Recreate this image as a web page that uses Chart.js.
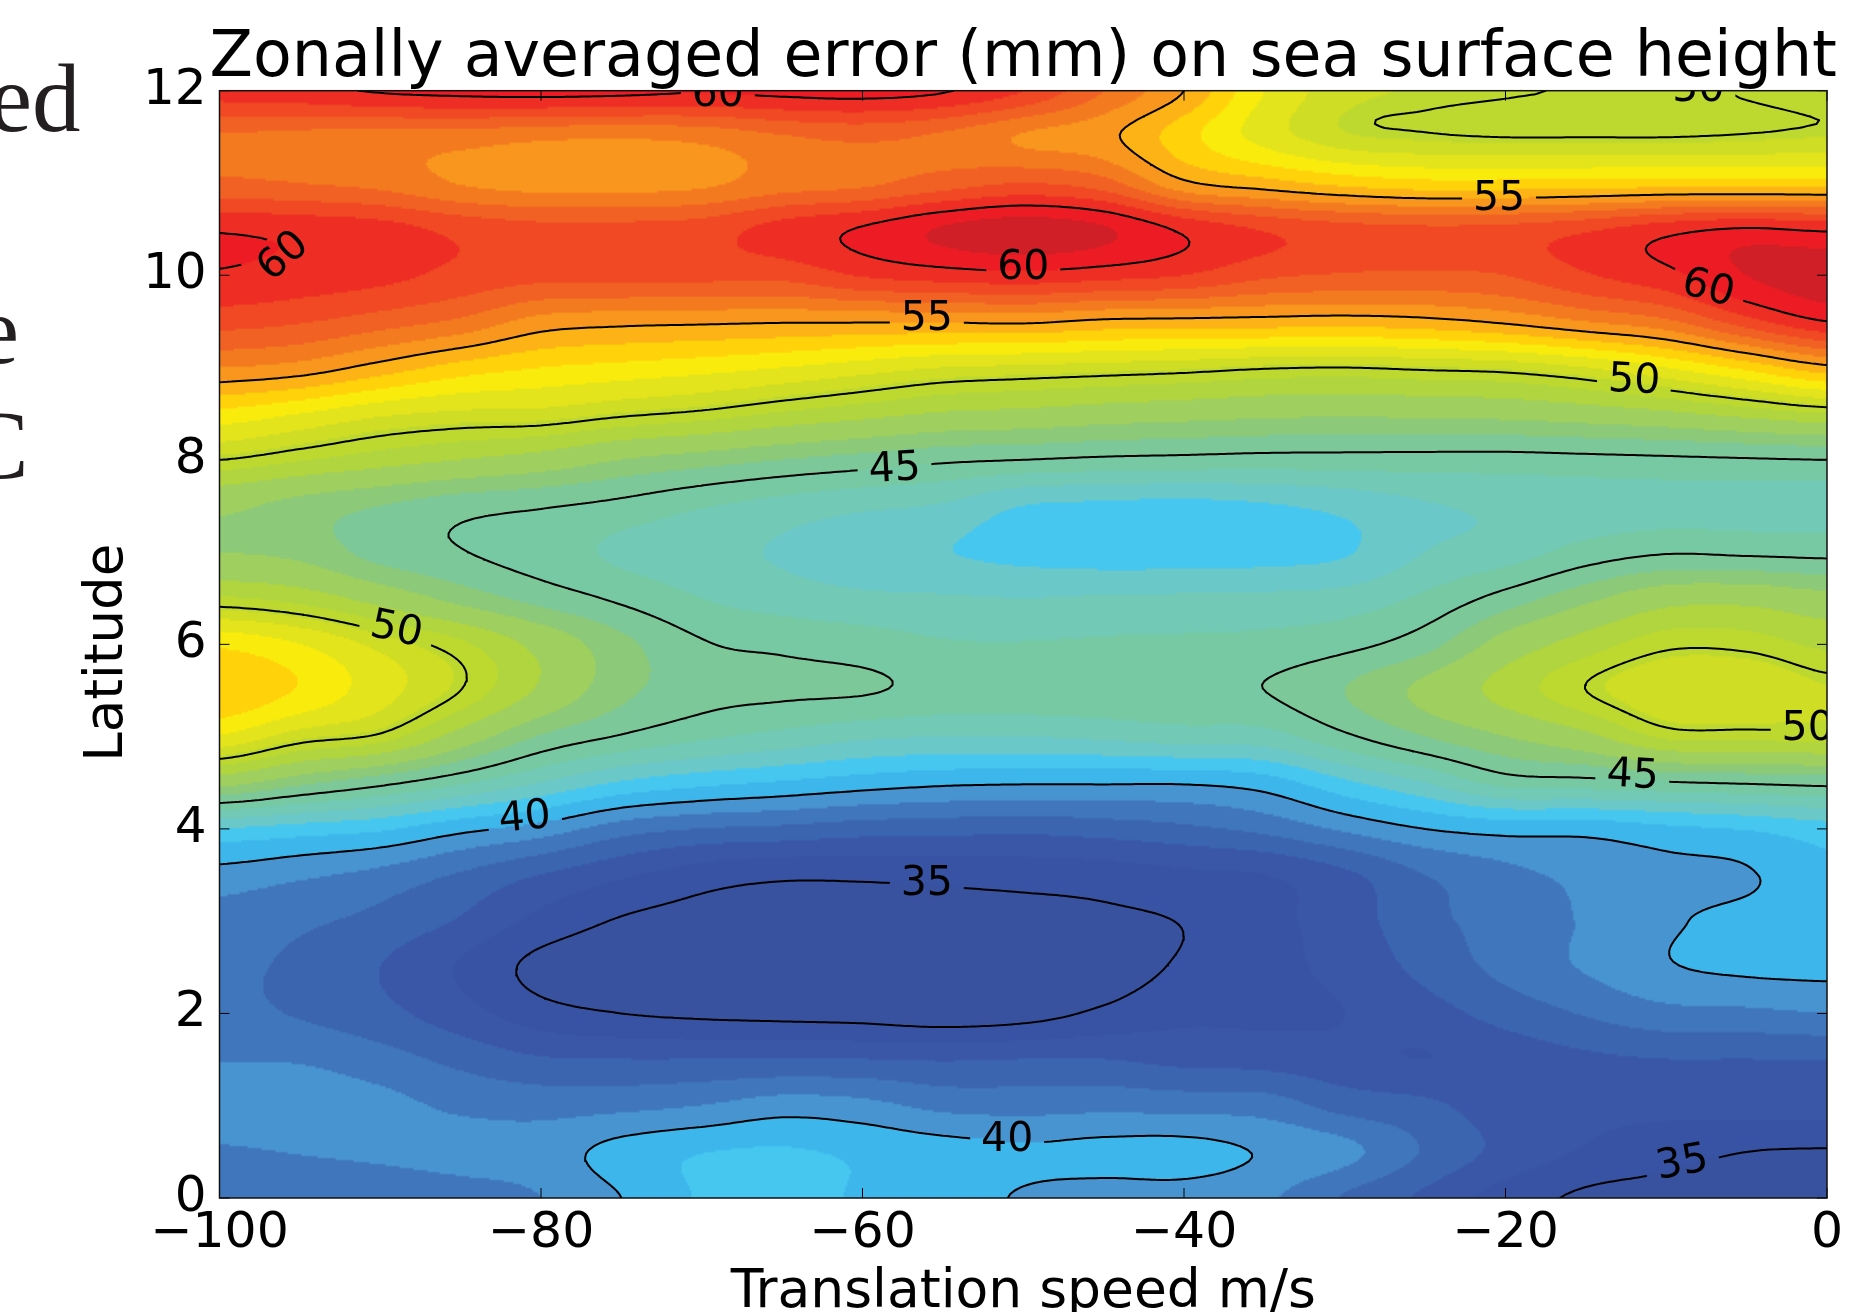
<!DOCTYPE html>
<html>
<head>
<meta charset="utf-8">
<title>Zonally averaged error</title>
<style>
	html, body { margin: 0; padding: 0; background: #fff; overflow: hidden; }
	#page { position: relative; width: 1865px; height: 1312px; overflow: hidden; }
	#chart { position: absolute; left: 0; top: 0; display: block; filter: blur(0.6px); }
	.cut { position: absolute; font-family: "Liberation Serif", serif; font-size: 97px; line-height: 1; color: #231f20; }
</style>
<script src="https://cdn.jsdelivr.net/npm/chart.js@4/dist/chart.umd.min.js"></script>
</head>
<body>
<div id="page">
	<span class="cut" style="left:-11px;top:50px">ed</span>
	<span class="cut" style="left:-24px;top:282px">e</span>
	<span class="cut" style="left:-36px;top:397px">C</span>
	<canvas id="chart" width="1865" height="1312"></canvas>
</div>
<script>
// Values
const speeds = [-100, -95, -90, -85, -80, -75, -70, -65, -60, -55, -50, -45, -40, -35, -30, -25, -20, -15, -10, -5, 0];
const latitudes = [0, 0.5, 1, 1.5, 2, 2.5, 3, 3.5, 4, 4.5, 5, 5.5, 6, 6.5, 7, 7.5, 8, 8.5, 9, 9.5, 10, 10.5, 11, 11.5, 12];
const errorMm = [
	[38.5, 38.4, 38.4, 38.6, 39.0, 40.0, 41.1, 41.3, 40.9, 40.5, 39.9, 39.6, 39.6, 39.2, 37.9, 36.8, 35.6, 34.8, 34.6, 34.4, 34.3],
	[38.9, 39.05, 39.2, 39.4, 39.5, 40.4, 40.95, 41.1, 40.8, 40.5, 40.2, 40.35, 40.4, 39.9, 39.3, 37.9, 36.7, 35.9, 35.4, 35.0, 34.9],
	[39.6, 39.6, 39.3, 38.8, 38.6, 38.7, 39.0, 39.5, 39.3, 38.7, 38.6, 38.7, 38.6, 38.5, 37.6, 37.2, 36.5, 36.3, 36.3, 36.4, 36.5],
	[38.95, 38.9, 38.4, 37.7, 37.1, 37.0, 37.0, 37.0, 37.0, 36.9, 37.0, 37.0, 36.7, 36.6, 36.3, 36.0, 36.4, 36.8, 37.0, 37.0, 37.05],
	[38.3, 37.9, 37.3, 36.4, 35.4, 35.0, 34.8, 34.7, 34.6, 34.4, 34.6, 35.2, 35.75, 35.8, 36.0, 36.6, 37.4, 38.1, 38.7, 38.8, 39.0],
	[38.2, 37.8, 37.0, 35.9, 34.7, 34.4, 34.2, 34.0, 34.0, 34.1, 34.2, 34.5, 35.15, 35.7, 36.3, 37.3, 38.3, 39.1, 39.9, 40.2, 40.3],
	[38.6, 38.2, 37.7, 36.9, 35.7, 34.9, 34.6, 34.4, 34.4, 34.5, 34.6, 34.8, 35.05, 35.7, 36.5, 37.7, 38.4, 39.1, 39.85, 40.3, 40.6],
	[39.6, 39.2, 38.7, 37.9, 37.0, 36.2, 35.5, 35.2, 35.2, 35.3, 35.4, 35.5, 35.8, 36.0, 36.8, 38.0, 38.7, 39.3, 39.7, 39.9, 40.8],
	[42.0, 41.6, 41.2, 40.3, 39.6, 38.5, 38.0, 37.8, 37.5, 37.4, 37.3, 37.5, 37.8, 38.3, 39.2, 40.0, 40.4, 40.4, 40.8, 41.1, 41.6],
	[47.5, 46.3, 45.3, 44.2, 43.0, 41.9, 41.3, 40.9, 40.5, 40.2, 40.1, 40.1, 40.1, 40.5, 41.8, 43.0, 44.4, 44.6, 44.9, 45.1, 45.3],
	[51.9, 50.5, 49.8, 47.8, 45.9, 44.9, 44.2, 43.7, 43.2, 43.0, 43.0, 43.2, 43.5, 43.6, 44.8, 46.0, 47.0, 48.0, 49.5, 49.6, 49.7],
	[53.9, 52.9, 51.4, 50.0, 48.1, 46.3, 45.4, 45.2, 45.1, 44.7, 44.7, 44.75, 44.8, 45.0, 46.0, 47.3, 48.7, 50.0, 50.8, 50.9, 50.3],
	[52.8, 52.0, 50.7, 49.5, 47.9, 46.3, 45.1, 44.8, 44.5, 44.1, 44.05, 44.15, 44.2, 44.3, 44.7, 45.6, 47.5, 48.8, 49.8, 49.75, 49.1],
	[49.4, 48.9, 47.8, 46.6, 45.6, 44.8, 44.0, 43.5, 43.2, 43.1, 43.0, 43.1, 43.15, 43.2, 43.4, 44.2, 45.4, 46.7, 47.8, 47.9, 47.4],
	[47.0, 46.7, 45.6, 45.05, 44.5, 43.8, 43.3, 42.9, 42.4, 42.05, 41.7, 41.5, 41.5, 41.6, 41.9, 43.0, 43.5, 44.4, 44.9, 44.8, 44.7],
	[47.3, 46.6, 46.0, 45.4, 45.1, 44.7, 44.1, 43.6, 43.2, 42.9, 42.0, 41.8, 41.7, 41.9, 42.3, 42.9, 43.2, 43.45, 43.6, 43.6, 43.6],
	[50.0, 49.4, 48.8, 48.3, 47.8, 47.0, 46.5, 46.0, 45.6, 45.2, 45.0, 44.8, 44.7, 44.6, 44.6, 44.6, 44.6, 44.7, 44.8, 44.9, 45.0],
	[52.7, 52.0, 51.2, 50.8, 50.7, 50.2, 49.8, 49.2, 48.7, 48.2, 48.0, 47.7, 47.5, 47.3, 47.2, 47.3, 47.4, 47.7, 48.1, 48.7, 49.3],
	[56.0, 55.6, 54.6, 53.6, 53.0, 52.7, 52.4, 52.0, 51.5, 51.0, 50.8, 50.6, 50.4, 50.1, 50.0, 50.2, 50.4, 51.0, 52.0, 53.3, 54.7],
	[58.4, 58.1, 57.5, 56.8, 55.6, 55.3, 55.2, 55.1, 55.1, 55.1, 55.2, 54.8, 54.7, 54.6, 54.5, 54.7, 55.2, 56.0, 56.8, 58.6, 60.0],
	[59.9, 59.6, 59.3, 58.7, 58.3, 58.3, 58.3, 58.3, 59.1, 59.5, 59.7, 59.4, 59.0, 58.2, 57.9, 57.8, 58.0, 58.9, 59.7, 61.0, 61.5],
	[59.9, 59.7, 59.4, 58.7, 58.3, 58.3, 58.5, 59.4, 60.1, 61.1, 61.6, 61.1, 59.8, 58.9, 58.4, 58.2, 58.3, 58.8, 59.6, 60.1, 59.8],
	[57.2, 57.0, 56.7, 55.95, 55.6, 55.6, 55.8, 56.5, 56.8, 57.5, 58.0, 57.4, 55.2, 54.4, 53.7, 53.3, 53.3, 53.4, 53.5, 53.5, 53.5],
	[56.9, 56.7, 56.6, 56.5, 56.2, 56.1, 56.3, 56.9, 57.2, 56.8, 55.9, 55.3, 53.4, 51.6, 50.4, 50.12, 49.98, 49.98, 49.98, 50.1, 50.25],
	[59.5, 59.7, 60.1, 60.3, 60.4, 60.3, 60.1, 60.3, 60.4, 60.1, 59.0, 57.0, 55.0, 52.0, 50.5, 50.2, 50.05, 49.95, 49.8, 50.05, 50.25]
];
const contourLevels = [35, 40, 45, 50, 55, 60];
const bandLevels = [35, 36, 37, 38, 39, 40, 41, 42, 43, 44, 45, 46, 47, 48.3, 49.3, 50.25, 51, 52, 53, 54, 55, 56, 57, 58, 59, 60, 61];
const bandColors = ['#38529f', '#3953a4', '#3a57a7', '#3b65af', '#4076bc', '#4894d0', '#3db6eb', '#46c7f0', '#6bc8c8', '#72c9b5', '#76c9a3', '#7cc898', '#8cc978', '#9fcf5f', '#b0d53f', '#bdd92f', '#cfdd24', '#e3e41b', '#f9ec0c', '#ffd20a', '#fdb216', '#f8961d', '#f47a20', '#f26124', '#f04923', '#ee2e24', '#ed1c24', '#d01f26'];
const xTicks = [-100, -80, -60, -40, -20, 0];
const yTicks = [0, 2, 4, 6, 8, 10, 12];
// contour labels: text, speed, latitude, rotation in degrees
const contourLabels = [
	['60', -69, 11.95, 0], ['60', -96, 10.2, -42], ['60', -50, 10.08, 0], ['60', -7.4, 9.85, 15],
	['55', -56, 9.52, 0], ['55', -20.4, 10.82, 0], ['50', -12, 8.85, 3], ['45', -58, 7.89, -3],
	['50', -89, 6.15, 12], ['50', -1.2, 5.08, 0], ['50', -8, 12.0, 0], ['45', -12.1, 4.57, 3],
	['40', -81, 4.11, -5], ['35', -56, 3.4, 0], ['40', -51, 0.63, 0], ['35', -9, 0.37, -10]
];

const FONT = '"DejaVu Sans", sans-serif';

// Catmull-Rom on the table, used only to draw between the read values
function cubic(p0, p1, p2, p3, t) {
	return p1 + 0.5 * t * (p2 - p0 + t * (2 * p0 - 5 * p1 + 4 * p2 - p3 + t * (3 * (p1 - p2) + p3 - p0)));
}
function errorAt(speed, lat) {
	const fx = (speed - speeds[0]) / (speeds[1] - speeds[0]);
	const fy = (lat - latitudes[0]) / (latitudes[1] - latitudes[0]);
	const ix = Math.min(Math.max(Math.floor(fx), 0), speeds.length - 2);
	const iy = Math.min(Math.max(Math.floor(fy), 0), latitudes.length - 2);
	const col = (i) => Math.min(Math.max(i, 0), speeds.length - 1);
	const row = (j) => Math.min(Math.max(j, 0), latitudes.length - 1);
	const v = [];
	for (let j = -1; j <= 2; j++) {
		const r = errorMm[row(iy + j)];
		v.push(cubic(r[col(ix - 1)], r[col(ix)], r[col(ix + 1)], r[col(ix + 2)], fx - ix));
	}
	return cubic(v[0], v[1], v[2], v[3], fy - iy);
}
function bandIndex(z) {
	let i = 0;
	while (i < bandLevels.length && z >= bandLevels[i]) i++;
	return i;
}
function hexToRgb(h) {
	return [parseInt(h.slice(1, 3), 16), parseInt(h.slice(3, 5), 16), parseInt(h.slice(5, 7), 16)];
}

// Marching squares, returns {x,y} points with breaks between segments
function contourPoints(level) {
	const nx = 400, ny = 300;
	const x0 = speeds[0], x1 = speeds[speeds.length - 1];
	const y0 = latitudes[0], y1 = latitudes[latitudes.length - 1];
	const dx = (x1 - x0) / nx, dy = (y1 - y0) / ny;
	const pts = [];
	let prev = [];
	for (let i = 0; i <= nx; i++) prev.push(errorAt(x0 + i * dx, y0));
	for (let j = 0; j < ny; j++) {
		const cur = [];
		for (let i = 0; i <= nx; i++) cur.push(errorAt(x0 + i * dx, y0 + (j + 1) * dy));
		for (let i = 0; i < nx; i++) {
			const a = prev[i], b = prev[i + 1], c = cur[i + 1], d = cur[i];
			const xa = x0 + i * dx, ya = y0 + j * dy;
			const hits = [];
			if ((a < level) !== (b < level)) hits.push({x: xa + dx * (level - a) / (b - a), y: ya});
			if ((b < level) !== (c < level)) hits.push({x: xa + dx, y: ya + dy * (level - b) / (c - b)});
			if ((c < level) !== (d < level)) hits.push({x: xa + dx * (level - d) / (c - d), y: ya + dy});
			if ((d < level) !== (a < level)) hits.push({x: xa, y: ya + dy * (level - a) / (d - a)});
			for (let k = 0; k + 1 < hits.length; k += 2) {
				pts.push(hits[k], hits[k + 1], {x: NaN, y: NaN});
			}
		}
		prev = cur;
	}
	return pts;
}

const filledBands = {
	id: 'filledBands',
	beforeDatasetsDraw(chart) {
		const {ctx, chartArea: area, scales} = chart;
		const step = 2;
		const w = Math.ceil(area.width / step), h = Math.ceil(area.height / step);
		const off = document.createElement('canvas');
		off.width = w;
		off.height = h;
		const octx = off.getContext('2d');
		const img = octx.createImageData(w, h);
		const rgb = bandColors.map(hexToRgb);
		for (let j = 0; j < h; j++) {
			const lat = scales.y.getValueForPixel(area.top + (j + 0.5) * step);
			for (let i = 0; i < w; i++) {
				const speed = scales.x.getValueForPixel(area.left + (i + 0.5) * step);
				const col = rgb[bandIndex(errorAt(speed, lat))];
				const o = (j * w + i) * 4;
				img.data[o] = col[0];
				img.data[o + 1] = col[1];
				img.data[o + 2] = col[2];
				img.data[o + 3] = 255;
			}
		}
		octx.putImageData(img, 0, 0);
		ctx.save();
		ctx.imageSmoothingEnabled = true;
		ctx.drawImage(off, area.left, area.top, area.width, area.height);
		ctx.restore();
	}
};

function labelBox(chart, label) {
	const px = chart.scales.x.getPixelForValue(label[1]);
	const py = chart.scales.y.getPixelForValue(label[2]);
	return {px, py, angle: label[3] * Math.PI / 180};
}

// Cut the line work where the contour labels sit
const labelGaps = {
	id: 'labelGaps',
	beforeDatasetDraw(chart) {
		const {ctx, chartArea: area} = chart;
		ctx.save();
		ctx.beginPath();
		ctx.rect(area.left - 2, area.top - 2, area.width + 4, area.height + 4);
		contourLabels.forEach((label) => {
			const b = labelBox(chart, label);
			const cos = Math.cos(b.angle), sin = Math.sin(b.angle);
			const hw = 37, hh = 24;
			[[-hw, -hh], [hw, -hh], [hw, hh], [-hw, hh]].forEach((p, i) => {
				const qx = b.px + p[0] * cos - p[1] * sin;
				const qy = b.py + p[0] * sin + p[1] * cos;
				if (i === 0) ctx.moveTo(qx, qy); else ctx.lineTo(qx, qy);
			});
			ctx.closePath();
		});
		ctx.clip('evenodd');
	},
	afterDatasetDraw(chart) {
		chart.ctx.restore();
	}
};

// The title is wider than the plot but centred on it, so let its box stick out
const wideTitle = {
	id: 'wideTitle',
	afterLayout(chart) {
		chart.titleBlock.left -= 100;
		chart.titleBlock.right += 100;
	}
};

const frameAndLabels = {
	id: 'frameAndLabels',
	afterDatasetsDraw(chart) {
		const {ctx, chartArea: area, scales} = chart;
		ctx.save();
		ctx.beginPath();
		ctx.rect(area.left, area.top, area.width, area.height);
		ctx.clip();
		ctx.fillStyle = '#000';
		ctx.font = '41px ' + FONT;
		ctx.textAlign = 'center';
		ctx.textBaseline = 'middle';
		contourLabels.forEach((label) => {
			const b = labelBox(chart, label);
			ctx.save();
			ctx.translate(b.px, b.py);
			ctx.rotate(b.angle);
			ctx.fillText(label[0], 0, 0);
			ctx.restore();
		});
		ctx.restore();

		// inward ticks on the four sides, then the box
		ctx.save();
		ctx.strokeStyle = '#000';
		ctx.lineWidth = 1;
		ctx.beginPath();
		xTicks.forEach((v) => {
			const p = scales.x.getPixelForValue(v);
			ctx.moveTo(p, area.bottom);
			ctx.lineTo(p, area.bottom - 10);
			ctx.moveTo(p, area.top);
			ctx.lineTo(p, area.top + 10);
		});
		yTicks.forEach((v) => {
			const p = scales.y.getPixelForValue(v);
			ctx.moveTo(area.left, p);
			ctx.lineTo(area.left + 10, p);
			ctx.moveTo(area.right, p);
			ctx.lineTo(area.right - 10, p);
		});
		ctx.stroke();
		ctx.lineWidth = 1.5;
		ctx.strokeStyle = '#111';
		ctx.strokeRect(area.left, area.top, area.width, area.height);
		ctx.restore();
	}
};

new Chart(document.getElementById('chart'), {
	type: 'scatter',
	data: {
		datasets: contourLevels.map((level) => ({
			label: String(level),
			data: contourPoints(level),
			showLine: true,
			spanGaps: false,
			borderColor: '#000',
			borderWidth: 2,
			borderCapStyle: 'round',
			pointRadius: 0,
			pointHoverRadius: 0
		}))
	},
	plugins: [wideTitle, filledBands, labelGaps, frameAndLabels],
	options: {
		responsive: false,
		animation: false,
		devicePixelRatio: 1,
		layout: {padding: {left: 0, right: 38, top: 0, bottom: 0}},
		plugins: {
			legend: {display: false},
			tooltip: {enabled: false},
			title: {
				display: true,
				fullSize: false,
				text: 'Zonally averaged error (mm) on sea surface height',
				color: '#000',
				font: {family: FONT, size: 63.4, weight: 'normal', lineHeight: 1},
				padding: {top: 28, bottom: -0.7}
			}
		},
		scales: {
			x: {
				type: 'linear',
				min: -100,
				max: 0,
				grid: {display: false, drawTicks: false},
				border: {display: false},
				afterFit(scale) { scale.height = 114; },
				afterBuildTicks(scale) { scale.ticks = xTicks.map((v) => ({value: v})); },
				ticks: {
					autoSkip: false,
					maxRotation: 0,
					padding: 6,
					color: '#000',
					font: {family: FONT, size: 50.5},
					callback: (v) => String(v).replace('-', '\u2212')
				},
				title: {
					display: true,
					text: 'Translation speed m/s',
					color: '#000',
					font: {family: FONT, size: 53.5, weight: 'normal', lineHeight: 1},
					padding: {top: 0, bottom: -8}
				}
			},
			y: {
				type: 'linear',
				min: 0,
				max: 12,
				grid: {display: false, drawTicks: false},
				border: {display: false},
				afterFit(scale) { scale.width = 219.5; },
				afterBuildTicks(scale) { scale.ticks = yTicks.map((v) => ({value: v})); },
				ticks: {
					autoSkip: false,
					padding: 13,
					color: '#000',
					font: {family: FONT, size: 50}
				},
				title: {
					display: true,
					text: 'Latitude ',
					color: '#000',
					font: {family: FONT, size: 53, weight: 'normal', lineHeight: 1},
					padding: {top: 81.5, bottom: 0}
				}
			}
		}
	}
});
</script>
</body>
</html>
